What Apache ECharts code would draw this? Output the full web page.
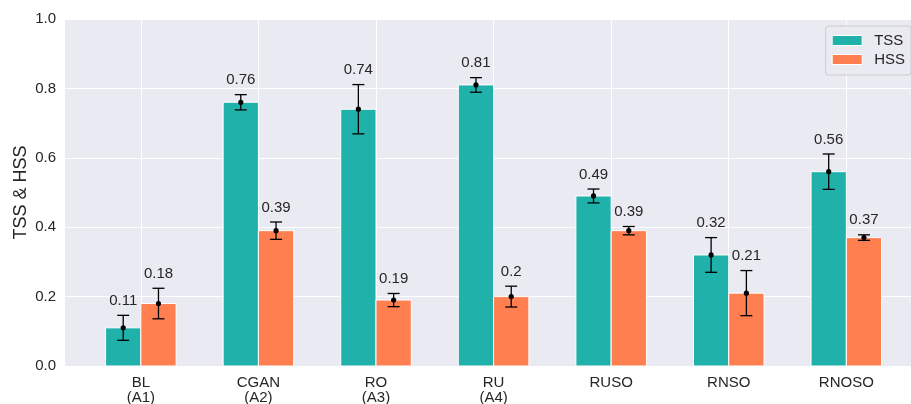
<!DOCTYPE html>
<html>
<head>
<meta charset="utf-8">
<script src="https://cdn.jsdelivr.net/npm/echarts@6/dist/echarts.min.js"></script>
<style>
  html, body { margin: 0; padding: 0; background: #fff; }
  #chart { width: 911px; height: 404px; }
</style>
</head>
<body>
<div id="chart"></div>
<script>
// Sampling methods and their identifiers
const methods = ['BL', 'CGAN', 'RO', 'RU', 'RUSO', 'RNSO', 'RNOSO'];
const methodIds = ['A1', 'A2', 'A3', 'A4', '', '', ''];

// Mean scores
const tssMean = [0.11, 0.76, 0.74, 0.81, 0.49, 0.32, 0.56];
const hssMean = [0.18, 0.39, 0.19, 0.20, 0.39, 0.21, 0.37];

// Standard deviations (error bar half-lengths)
const tssStd = [0.036, 0.022, 0.071, 0.021, 0.020, 0.050, 0.051];
const hssStd = [0.044, 0.025, 0.019, 0.030, 0.012, 0.065, 0.008];

const FONT = '"Liberation Sans", Arial, sans-serif';
const TSS_COLOR = '#20B2AA';
const HSS_COLOR = '#FF7F50';
const TEXT = '#262626';
const BAR_W = 0.3;          // bar width in category units
const OFFSET = 0.15;        // bar centre offset from category centre

function barSeries(name, means, color, offset) {
  return {
    name: name,
    type: 'custom',
    z: 3,
    data: means.map((v, i) => [i, v]),
    encode: { x: 0, y: 1 },
    itemStyle: { color: color },
    renderItem: function (params, api) {
      const x = api.value(0) + offset;
      const v = api.value(1);
      const p0 = api.coord([x - BAR_W / 2, v]);
      const p1 = api.coord([x + BAR_W / 2, 0]);
      return {
        type: 'rect',
        shape: { x: p0[0], y: p0[1], width: p1[0] - p0[0], height: p1[1] - p0[1] },
        style: { fill: color, stroke: '#ffffff', lineWidth: 1 }
      };
    }
  };
}

function errorSeries(name, means, stds, offset) {
  return {
    name: name + '-err',
    type: 'custom',
    z: 4,
    silent: true,
    data: means.map((v, i) => [i, v, stds[i]]),
    encode: { x: 0, y: 1 },
    renderItem: function (params, api) {
      const x = api.value(0) + offset;
      const v = api.value(1);
      const s = api.value(2);
      const top = api.coord([x, v + s]);
      const bot = api.coord([x, v - s]);
      const mid = api.coord([x, v]);
      const cap = 6;
      const ls = { stroke: '#000', lineWidth: 1.3 };
      return {
        type: 'group',
        children: [
          { type: 'line', shape: { x1: top[0], y1: top[1], x2: bot[0], y2: bot[1] }, style: ls },
          { type: 'line', shape: { x1: top[0] - cap, y1: top[1], x2: top[0] + cap, y2: top[1] }, style: ls },
          { type: 'line', shape: { x1: bot[0] - cap, y1: bot[1], x2: bot[0] + cap, y2: bot[1] }, style: ls },
          { type: 'circle', shape: { cx: mid[0], cy: mid[1], r: 2.6 }, style: { fill: '#000' } },
          {
            type: 'text',
            x: top[0], y: top[1] - 7,
            style: {
              text: String(v),
              fill: TEXT,
              font: '15px ' + FONT,
              align: 'center',
              verticalAlign: 'bottom'
            }
          }
        ]
      };
    }
  };
}

const chart = echarts.init(document.getElementById('chart'), null, { renderer: 'canvas' });

chart.setOption({
  animation: false,
  backgroundColor: '#ffffff',
  textStyle: { fontFamily: FONT, color: TEXT },
  grid: {
    left: 65, right: 0, top: 19, bottom: 38,
    outerBoundsMode: 'none',
    containLabel: false,
    show: true, backgroundColor: '#EAEAF2', borderWidth: 0
  },
  legend: {
    orient: 'vertical',
    right: 0, top: 26,
    data: [
      { name: 'TSS', itemStyle: { color: TSS_COLOR, borderColor: '#fff', borderWidth: 1 } },
      { name: 'HSS', itemStyle: { color: HSS_COLOR, borderColor: '#fff', borderWidth: 1 } }
    ],
    icon: 'rect',
    itemWidth: 30, itemHeight: 10, itemGap: 4,
    padding: [7, 6, 8, 6],
    backgroundColor: 'rgba(234,234,242,0.85)',
    borderColor: '#cccccc', borderWidth: 1, borderRadius: 3,
    textStyle: { fontSize: 15, fontFamily: FONT, color: TEXT, padding: [0, 0, 0, 7] }
  },
  xAxis: {
    type: 'value',
    min: -0.645, max: 6.55,
    axisLine: { show: false },
    axisTick: { show: false, customValues: methods.map((_, i) => i) },
    splitLine: { show: true, lineStyle: { color: '#ffffff', width: 1 } },
    axisLabel: {
      customValues: methods.map((_, i) => i),
      margin: 9,
      fontSize: 15,
      lineHeight: 15,
      fontFamily: FONT,
      color: TEXT,
      formatter: function (v) {
        const i = Math.round(v);
        return methodIds[i] ? methods[i] + '\n(' + methodIds[i] + ')' : methods[i];
      }
    }
  },
  yAxis: {
    type: 'value',
    min: 0, max: 1, interval: 0.2,
    name: 'TSS & HSS',
    nameLocation: 'middle',
    nameGap: 35,
    nameMoveOverlap: false,
    nameTextStyle: { fontSize: 18, fontFamily: FONT, color: TEXT },
    axisLine: { show: false },
    axisTick: { show: false },
    splitLine: { lineStyle: { color: '#ffffff', width: 1 } },
    axisLabel: {
      fontSize: 15, fontFamily: FONT, color: TEXT, margin: 9,
      formatter: v => v.toFixed(1)
    }
  },
  series: [
    barSeries('TSS', tssMean, TSS_COLOR, -OFFSET),
    barSeries('HSS', hssMean, HSS_COLOR, OFFSET),
    errorSeries('TSS', tssMean, tssStd, -OFFSET),
    errorSeries('HSS', hssMean, hssStd, OFFSET)
  ]
});
</script>
</body>
</html>
